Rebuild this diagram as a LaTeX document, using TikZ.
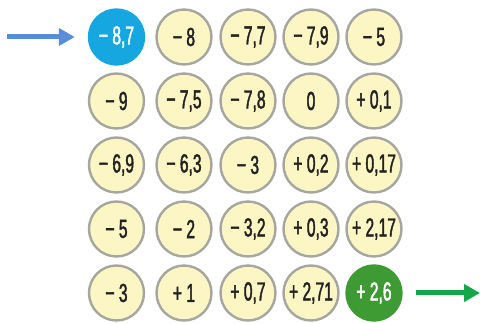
\documentclass[tikz,border=0pt]{standalone}
\usepackage{fontspec}
\setmainfont{Liberation Sans}[FakeStretch=0.6,FakeBold=1.6]
\usepackage{tikz}
\usetikzlibrary{arrows.meta,positioning}
\definecolor{cream}{HTML}{FCF5C4}
\definecolor{rim}{HTML}{A6A6A0}
\definecolor{ink}{HTML}{222222}
\definecolor{startblue}{HTML}{17A7E0}
\definecolor{arrowblue}{HTML}{5A8CD8}
\definecolor{goalgreen}{HTML}{3E9A33}
\definecolor{arrowgreen}{HTML}{12A84A}

\tikzset{
  cell/.style={circle, draw=rim, fill=cream, line width=2.4pt, minimum size=55pt,
    inner sep=0pt, text=ink, font=\fontsize{26}{26}\selectfont},
  startcell/.style={cell, draw=startblue, fill=startblue, text=white},
  goalcell/.style={cell, draw=goalgreen, fill=goalgreen, text=white},
  pointer/.style={line width=5pt, -{Triangle[length=16pt,width=17pt]}}
}

\begin{document}
\begin{tikzpicture}[x=1pt,y=-1pt]
  \useasboundingbox (0,0) rectangle (480,323);
  \foreach \r/\c/\v/\s in {1/1/{−\,8,7}/startcell,1/2/{−\,8}/cell,1/3/{−\,7,7}/cell,1/4/{−\,7,9}/cell,1/5/{−\,5}/cell,
      2/1/{−\,9}/cell,2/2/{−\,7,5}/cell,2/3/{−\,7,8}/cell,2/4/{0}/cell,2/5/{+\,0,1}/cell,
      3/1/{−\,6,9}/cell,3/2/{−\,6,3}/cell,3/3/{−\,3}/cell,3/4/{+\,0,2}/cell,3/5/{+\,0,17}/cell,
      4/1/{−\,5}/cell,4/2/{−\,2}/cell,4/3/{−\,3,2}/cell,4/4/{+\,0,3}/cell,4/5/{+\,2,17}/cell,
      5/1/{−\,3}/cell,5/2/{+\,1}/cell,5/3/{+\,0,7}/cell,5/4/{+\,2,71}/cell,5/5/{+\,2,6}/goalcell}{
    \pgfmathsetmacro\xx{{116.5,184,248,311,374}[\c-1]}
    \pgfmathsetmacro\yy{37+64*(\r-1)}
    \node[\s] (c\r\c) at (\xx,\yy) {\v};
  }
  % way in and way out
  \coordinate (in) at (7,37);
  \coordinate (out) at (480,293);
  \draw[pointer, arrowblue] (in) -- ([xshift=-13pt]c11.west);
  \draw[pointer, arrowgreen] ([xshift=13pt]c55.east) -- (out);
\end{tikzpicture}
\end{document}
